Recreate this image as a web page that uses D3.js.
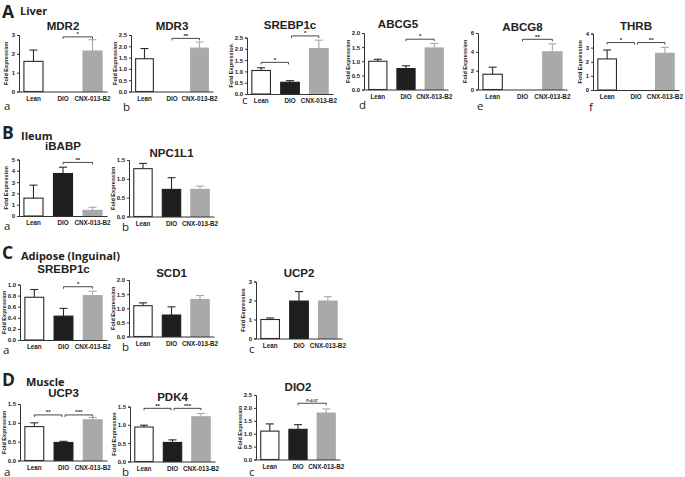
<!DOCTYPE html>
<html><head><meta charset="utf-8">
<script src="https://cdn.jsdelivr.net/npm/d3@7"></script>
<style>body{margin:0;background:#fff}svg{display:block}</style>
</head><body>
<svg id="chart" width="685" height="477"></svg>
<script>
// ---------- data ----------
const categories = ["Lean", "DIO", "CNX-013-B2"];

// Liver
const mdr2Mean = [1.6, null, 2.15],  mdr2Err = [0.6, null, 0.6],  mdr2Ticks = [0, 1, 2, 3];
const mdr3Mean = [1.45, null, 1.92], mdr3Err = [0.45, null, 0.27], mdr3Ticks = [0, 0.5, 1, 1.5, 2, 2.5];
const srebpLMean = [1.04, 0.52, 2.01], srebpLErr = [0.12, 0.07, 0.37], srebpLTicks = [0, 0.5, 1, 1.5, 2, 2.5];
const abcg5Mean = [1.0, 0.74, 1.47], abcg5Err = [0.07, 0.1, 0.16], abcg5Ticks = [0, 0.5, 1, 1.5, 2];
const abcg8Mean = [1.62, null, 4.0], abcg8Err = [0.75, null, 0.85], abcg8Ticks = [0, 2, 4, 6];
const thrbMean = [2.2, null, 2.6], thrbErr = [0.63, null, 0.42], thrbTicks = [0, 1, 2, 3, 4];
// Ileum
const ibabpMean = [1.58, 3.76, 0.5], ibabpErr = [1.15, 0.56, 0.27], ibabpTicks = [0, 1, 2, 3, 4, 5];
const npcMean = [1.27, 0.72, 0.72], npcErr = [0.14, 0.31, 0.09], npcTicks = [0, 0.5, 1, 1.5];
// Adipose
const srebpAMean = [0.77, 0.43, 0.8], srebpAErr = [0.14, 0.14, 0.08], srebpATicks = [0, 0.2, 0.4, 0.6, 0.8, 1];
const scd1Mean = [1.09, 0.76, 1.31], scd1Err = [0.1, 0.29, 0.14], scd1Ticks = [0, 0.5, 1, 1.5, 2];
const ucp2Mean = [1.0, 1.97, 1.97], ucp2Err = [0.08, 0.5, 0.23], ucp2Ticks = [0, 1, 2, 3];
// Muscle
const ucp3Mean = [0.9, 0.48, 1.08], ucp3Err = [0.1, 0.03, 0.06], ucp3Ticks = [0, 0.5, 1, 1.5];
const pdk4Mean = [0.94, 0.52, 1.22], pdk4Err = [0.05, 0.07, 0.09], pdk4Ticks = [0, 0.5, 1, 1.5];
const dio2Mean = [1.1, 1.17, 1.8], dio2Err = [0.28, 0.18, 0.16], dio2Ticks = [0, 0.5, 1, 1.5, 2, 2.5];

// significance brackets: [from category index, to category index, label]
const mdr2Sig = [[1, 2, "*"]];
const mdr3Sig = [[1, 2, "**"]];
const srebpLSig = [[0, 1, "*"], [1, 2, "*"]];
const abcg5Sig = [[1, 2, "*"]];
const abcg8Sig = [[1, 2, "**"]];
const thrbSig = [[0, 1, "*"], [1, 2, "**"]];
const ibabpSig = [[1, 2, "**"]];
const srebpASig = [[1, 2, "*"]];
const ucp3Sig = [[0, 1, "**"], [1, 2, "***"]];
const pdk4Sig = [[0, 1, "**"], [1, 2, "***"]];
const dio2Sig = [[1, 2, "P=0.07"]];

// ---------- section headers ----------
const sections = [
  {letter: "A", name: "Liver", y: 18, nx: 20, ny: 15},
  {letter: "B", name: "Ileum", y: 139, nx: 21, ny: 140},
  {letter: "C", name: "Adipose (Inguinal)", y: 259, nx: 21, ny: 260},
  {letter: "D", name: "Muscle", y: 386, nx: 26, ny: 386}
];

// ---------- layout ----------
const panels = [
  {title: "MDR2", mean: mdr2Mean, err: mdr2Err, ticks: mdr2Ticks, fmt: "d", sig: mdr2Sig, sigLv: [2.9],
   letter: "a", ax: 19, w: 88, top: 35, bottom: 91.5, ty: 30, lx: 4, ly: 110},
  {title: "MDR3", mean: mdr3Mean, err: mdr3Err, ticks: mdr3Ticks, fmt: ".1f", sig: mdr3Sig, sigLv: [2.35],
   letter: "b", ax: 131, w: 82, top: 35, bottom: 91.5, ty: 30, lx: 123, ly: 111},
  {title: "SREBP1c", mean: srebpLMean, err: srebpLErr, ticks: srebpLTicks, fmt: ".1f", sig: srebpLSig, sigLv: [1.4, 2.57],
   letter: "c", ax: 247, w: 86, top: 37.5, bottom: 94, ty: 29, lx: 242, ly: 104},
  {title: "ABCG5", mean: abcg5Mean, err: abcg5Err, ticks: abcg5Ticks, fmt: ".1f", sig: abcg5Sig, sigLv: [1.78],
   letter: "d", ax: 364, w: 84, top: 33, bottom: 89.5, ty: 28, tdx: -8, lx: 359, ly: 109},
  {title: "ABCG8", mean: abcg8Mean, err: abcg8Err, ticks: abcg8Ticks, fmt: "d", sig: abcg8Sig, sigLv: [5.33],
   letter: "e", ax: 478, w: 89, top: 33, bottom: 89.5, ty: 31, lx: 477, ly: 110},
  {title: "THRB", mean: thrbMean, err: thrbErr, ticks: thrbTicks, fmt: "d", sig: thrbSig, sigLv: [3.36, 3.36],
   letter: "f", ax: 593, w: 86, top: 33.5, bottom: 90, ty: 30, lx: 589, ly: 111},

  {title: "iBABP", mean: ibabpMean, err: ibabpErr, ticks: ibabpTicks, fmt: "d", sig: ibabpSig, sigLv: [4.74],
   letter: "a", ax: 19, w: 88, top: 159.5, bottom: 216, ty: 150, lx: 4, ly: 230},
  {title: "NPC1L1", mean: npcMean, err: npcErr, ticks: npcTicks, fmt: ".1f", sig: [], sigLv: [],
   letter: "b", ax: 129, w: 85, top: 160, bottom: 216.5, ty: 157, lx: 122, ly: 231},

  {title: "SREBP1c", mean: srebpAMean, err: srebpAErr, ticks: srebpATicks, fmt: ".1f", sig: srebpASig, sigLv: [0.96],
   letter: "a", ax: 20, w: 87, top: 284.5, bottom: 340, ty: 273, lx: 3, ly: 354},
  {title: "SCD1", mean: scd1Mean, err: scd1Err, ticks: scd1Ticks, fmt: ".1f", sig: [], sigLv: [],
   letter: "b", ax: 129, w: 85, top: 280, bottom: 336.5, ty: 277, lx: 122, ly: 351},
  {title: "UCP2", mean: ucp2Mean, err: ucp2Err, ticks: ucp2Ticks, fmt: "d", sig: [], sigLv: [],
   letter: "c", ax: 256, w: 86, top: 281.5, bottom: 338.5, ty: 277, lx: 249, ly: 353},

  {title: "UCP3", mean: ucp3Mean, err: ucp3Err, ticks: ucp3Ticks, fmt: ".1f", sig: ucp3Sig, sigLv: [1.21, 1.21],
   letter: "a", ax: 20, w: 87, top: 404, bottom: 460.5, ty: 397, lx: 4, ly: 475.5},
  {title: "PDK4", mean: pdk4Mean, err: pdk4Err, ticks: pdk4Ticks, fmt: ".1f", sig: pdk4Sig, sigLv: [1.45, 1.45],
   letter: "b", ax: 130, w: 85, top: 406.5, bottom: 461.5, ty: 401, lx: 122, ly: 475.5},
  {title: "DIO2", mean: dio2Mean, err: dio2Err, ticks: dio2Ticks, fmt: ".1f", sig: dio2Sig, sigLv: [2.18],
   letter: "c", ax: 256, w: 84, top: 395, bottom: 459.5, ty: 391, lx: 249, ly: 475.5}
];

const fills = ["#ffffff", "#1e1e1e", "#a9a9a9"];
const strokes = ["#2a2a2a", "#1e1e1e", "#a9a9a9"];
const errCol = ["#2a2a2a", "#2a2a2a", "#a9a9a9"];
const ink = "#333";
const sans = "'Liberation Sans', Arial, sans-serif";

const svg = d3.select("#chart");

sections.forEach(s => {
  svg.append("text").attr("x", 2).attr("y", s.y).text(s.letter)
    .attr("font-family", "'Open Sans', sans-serif").attr("font-weight", 700)
    .attr("font-size", 17.5).attr("fill", "#222");
  svg.append("text").attr("x", s.nx).attr("y", s.ny).text(s.name)
    .attr("font-family", "'Open Sans', sans-serif").attr("font-weight", 700)
    .attr("font-size", 11).attr("fill", "#222");
});

panels.forEach(p => {
  const g = svg.append("g");
  const x = d3.scaleBand().domain(categories).range([p.ax, p.ax + p.w])
    .paddingInner(0.32).paddingOuter(0.15);
  const ymax = p.ticks[p.ticks.length - 1];
  const y = d3.scaleLinear().domain([0, ymax]).range([p.bottom, p.top]);

  // title
  g.append("text").attr("x", p.ax + p.w / 2 + (p.tdx || 0)).attr("y", p.ty)
    .attr("text-anchor", "middle").text(p.title)
    .attr("font-family", sans).attr("font-weight", 700).attr("font-size", 11.5).attr("fill", "#222");

  // bars
  categories.forEach((c, i) => {
    const v = p.mean[i];
    if (v == null) return;
    const x0 = x(c), bw = x.bandwidth();
    g.append("rect").attr("x", x0 + 0.5).attr("y", y(v))
      .attr("width", bw - 1).attr("height", y(0) - y(v))
      .attr("fill", fills[i]).attr("stroke", strokes[i]).attr("stroke-width", 1.1);
    const e = p.err[i];
    if (e) {
      const cx = x0 + bw / 2;
      g.append("line").attr("x1", cx).attr("x2", cx).attr("y1", y(v)).attr("y2", y(v + e))
        .attr("stroke", errCol[i]).attr("stroke-width", 1.1);
      g.append("line").attr("x1", cx - 4).attr("x2", cx + 4).attr("y1", y(v + e)).attr("y2", y(v + e))
        .attr("stroke", errCol[i]).attr("stroke-width", 1.1);
    }
  });

  // y axis
  const yAxis = d3.axisLeft(y).tickValues(p.ticks).tickFormat(d3.format(p.fmt))
    .tickSize(2).tickPadding(2);
  const ya = g.append("g").attr("transform", `translate(${p.ax},0)`).call(yAxis);
  ya.select(".domain").attr("stroke", ink).attr("stroke-width", 1);
  ya.selectAll(".tick line").attr("stroke", ink);
  ya.selectAll(".tick text").attr("font-family", sans).attr("font-weight", 700)
    .attr("font-size", 6).attr("fill", "#222");

  // x axis
  const xAxis = d3.axisBottom(x).tickSize(0).tickPadding(5);
  const xa = g.append("g").attr("transform", `translate(0,${p.bottom})`).call(xAxis);
  xa.select(".domain").attr("stroke", ink).attr("stroke-width", 1);
  xa.selectAll(".tick text").attr("font-family", sans).attr("font-weight", 700)
    .attr("font-size", 6.3).attr("fill", "#222");

  // y label
  const off = p.fmt === "d" ? 11 : 14;
  g.append("text")
    .attr("transform", `translate(${p.ax - off},${(p.top + p.bottom) / 2}) rotate(-90)`)
    .attr("text-anchor", "middle").text("Fold Expression")
    .attr("font-family", sans).attr("font-weight", 700).attr("font-size", 5.6).attr("fill", "#222");

  // significance brackets
  p.sig.forEach((s, k) => {
    const x1 = x(categories[s[0]]) + x.bandwidth() / 2 + (k > 0 ? 1.5 : 0);
    const x2 = x(categories[s[1]]) + x.bandwidth() / 2 - (p.sig.length > 1 && k === 0 ? 1.5 : 0);
    const yy = y(p.sigLv[k]);
    g.append("path").attr("d", `M${x1},${yy + 2}V${yy}H${x2}V${yy + 2}`)
      .attr("fill", "none").attr("stroke", ink).attr("stroke-width", 0.9);
    const small = s[2].length > 3;
    g.append("text").attr("x", (x1 + x2) / 2).attr("y", yy - (small ? 1.5 : 0.8))
      .attr("text-anchor", "middle").text(s[2])
      .attr("font-family", sans).attr("font-weight", 700)
      .attr("font-size", small ? 3.6 : 6).attr("fill", "#222");
  });

  // panel letter
  g.append("text").attr("x", p.lx).attr("y", p.ly).text(p.letter)
    .attr("font-family", "'Open Sans', sans-serif").attr("font-size", 11.5).attr("fill", "#222");
});
</script>
</body></html>
